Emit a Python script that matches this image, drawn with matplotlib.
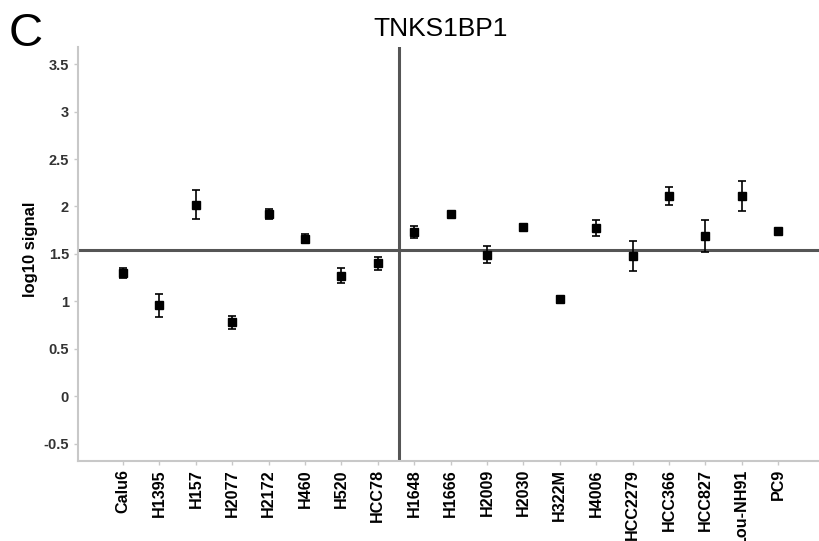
import numpy as np
import matplotlib
matplotlib.use("Agg")
import matplotlib.pyplot as plt

# cell lines and log10 signal (mean, error)
cell_lines = ["Calu6", "H1395", "H157", "H2077", "H2172", "H460", "H520", "HCC78",
              "H1648", "H1666", "H2009", "H2030", "H322M", "H4006", "HCC2279",
              "HCC366", "HCC827", "Lou-NH91", "PC9"]
signal = [1.30, 0.96, 2.02, 0.78, 1.92, 1.66, 1.27, 1.40,
          1.73, 1.92, 1.49, 1.78, 1.02, 1.77, 1.48,
          2.11, 1.69, 2.11, 1.74]
err = [0.05, 0.12, 0.15, 0.07, 0.05, 0.045, 0.08, 0.07,
       0.065, 0.0, 0.09, 0.0, 0.035, 0.085, 0.16,
       0.09, 0.17, 0.155, 0.0]
threshold = 1.54
split_at = 7.57
yticks = [-0.5, 0, 0.5, 1, 1.5, 2, 2.5, 3, 3.5]

plt.rcParams["font.family"] = ["Liberation Sans", "DejaVu Sans"]

fig = plt.figure(figsize=(8.2, 5.41), dpi=100)
ax = fig.add_axes([0.0951, 0.1484, 0.9049, 0.7646])

x = np.arange(len(cell_lines))
ax.errorbar(x, signal, yerr=err, fmt="s", color="black", ms=5.5,
            ecolor="black", elinewidth=1.2, capsize=3, capthick=1.2, zorder=3)

ax.axhline(threshold, color="#555555", lw=2.2, zorder=2)
ax.axvline(split_at, color="#555555", lw=2.2, zorder=2)

ax.set_xlim(-1.24, 19.15)
ax.set_ylim(-0.68, 3.68)
ax.set_xticks(x)
ax.set_xticklabels(cell_lines, rotation=90, fontsize=11.6, fontweight="bold", va="top")
ax.set_yticks(yticks)
ax.set_yticklabels([f"{v:g}" for v in yticks], fontsize=10.5, fontweight="bold")

for s in ["top", "right"]:
    ax.spines[s].set_visible(False)
for s in ["left", "bottom"]:
    ax.spines[s].set_color("#c8c8c8")
    ax.spines[s].set_linewidth(1.5)
ax.tick_params(axis="both", colors="#c8c8c8", length=3, width=1)
for lab in ax.get_xticklabels():
    lab.set_color("black")
for lab in ax.get_yticklabels():
    lab.set_color("#333333")
ax.tick_params(axis="x", pad=3)

ax.set_ylabel("log10 signal", fontsize=12, fontweight="bold")
ax.yaxis.set_label_coords(-0.054, 0.51)

fig.text(0.537, 0.946, "TNKS1BP1", fontsize=19, ha="center", va="center")
fig.text(0.01, 0.938, "C", fontsize=34, ha="left", va="center")

fig.savefig("out.png", dpi=100)
